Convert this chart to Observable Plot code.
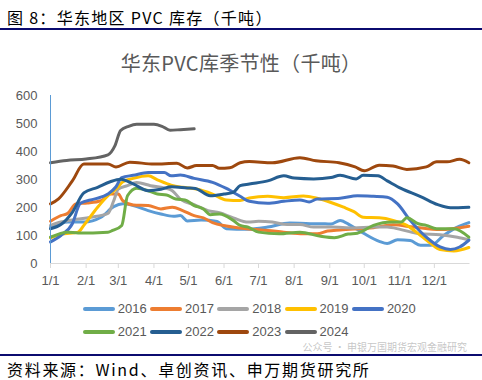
<!DOCTYPE html>
<html><head><meta charset="utf-8">
<script src="https://cdn.jsdelivr.net/npm/d3@7"></script>
<script src="https://cdn.jsdelivr.net/npm/@observablehq/plot@0.6"></script>
<style>
html,body{margin:0;padding:0;background:#fff;width:482px;height:380px;overflow:hidden;position:relative;}
#title{position:absolute;left:7px;top:5px;font:16px "Noto Sans CJK SC";letter-spacing:1.3px;color:#000;white-space:nowrap;}
.rule{position:absolute;left:0;width:482px;height:2px;background:#0b0b6f;}
#ctitle{position:absolute;left:0;width:482px;top:48px;text-align:center;font:20px "Noto Sans CJK SC";letter-spacing:0.3px;color:#595959;}
#chart{position:absolute;left:0;top:0;}
.leg{position:absolute;display:flex;align-items:center;font:13px "Liberation Sans",Arial;color:#595959;}
.sw{width:32px;height:4px;border-radius:2px;margin-right:3px;}
#cap{position:absolute;left:7px;top:357px;font:16px "Noto Sans CJK SC";letter-spacing:1.7px;color:#000;white-space:nowrap;}
#wm{position:absolute;right:15px;top:340px;font:10px/13px "Noto Sans CJK SC";color:rgba(140,140,140,0.5);white-space:nowrap;}
</style></head>
<body>
<div id="title">图 8：华东地区 PVC 库存（千吨）</div>
<div class="rule" style="top:28px"></div>
<div id="chart"></div>
<div id="ctitle">华东PVC库季节性（千吨）</div>
<div id="legend"></div>
<div id="wm">公众号 · 申银万国期货宏观金融研究</div>
<div class="rule" style="top:354px"></div>
<div id="cap">资料来源：Wind、卓创资讯、申万期货研究所</div>
<script>
const years = ["2016","2017","2018","2019","2020","2021","2022","2023","2024"];
const colors = ["#5b9bd5","#ed7d31","#a5a5a5","#ffc000","#4472c4","#70ad47","#255e91","#9e480e","#636363"];
const monthLabels = ["1/1","2/1","3/1","4/1","5/1","6/1","7/1","8/1","9/1","10/1","11/1","12/1"];
const yTicks = [0,100,200,300,400,500,600];

const s2016 = [["1/1",130],["1/16",148],["1/30",148],["2/14",165],["2/25",203],["3/5",213],["3/14",207],["3/27",189],["4/7",177],["4/18",169],["4/24",171],["4/30",152],["5/12",155],["5/26",150],["6/3",124],["6/21",122],["7/9",130],["7/28",145],["8/15",142],["8/28",142],["9/2",141],["9/10",154],["9/19",136],["9/30",109],["10/14",79],["10/21",71],["10/30",85],["11/10",82],["11/19",65],["11/28",65],["12/9",100],["12/21",130],["12/31",146]];
const s2017 = [["1/1",151],["1/10",171],["1/16",179],["1/23",213],["2/2",216],["2/14",224],["2/22",248],["3/1",248],["3/5",224],["3/14",209],["3/27",207],["4/7",195],["4/17",201],["4/26",189],["5/6",171],["5/14",163],["5/22",146],["6/3",134],["6/21",124],["7/9",118],["7/23",112],["8/9",106],["8/21",106],["8/30",116],["9/10",120],["10/9",128],["10/26",138],["11/13",130],["12/6",121],["12/31",133]];
const s2018 = [["1/1",136],["1/10",148],["1/21",156],["2/5",165],["2/20",179],["2/25",224],["3/1",266],["3/9",278],["3/17",289],["3/29",278],["4/10",270],["4/17",260],["4/24",230],["5/6",210],["5/18",189],["5/28",181],["6/9",163],["6/22",148],["7/1",151],["7/13",148],["7/26",139],["8/6",139],["8/18",130],["9/2",130],["9/22",127],["10/9",130],["10/21",130],["11/2",121],["11/19",106],["12/6",103],["12/21",94],["12/31",85]];
const s2019 = [["1/1",92],["1/10",104],["1/25",112],["1/30",136],["2/11",201],["2/20",242],["2/27",266],["3/5",292],["3/14",304],["3/27",313],["4/4",299],["4/16",280],["4/26",272],["5/8",266],["5/22",248],["6/3",227],["6/15",225],["6/23",234],["7/9",240],["7/23",235],["8/9",241],["8/21",233],["9/2",218],["9/13",201],["9/22",185],["9/30",165],["10/14",163],["10/26",154],["11/7",136],["11/19",100],["11/28",71],["12/6",50],["12/18",45],["12/31",57]];
const s2020 = [["1/1",77],["1/10",100],["1/20",142],["1/27",215],["2/8",230],["2/20",248],["2/27",274],["3/4",307],["3/14",315],["3/27",325],["4/10",325],["4/16",313],["4/24",316],["5/6",304],["5/22",290],["6/3",268],["6/15",240],["6/23",222],["7/9",215],["7/23",222],["8/6",227],["8/14",220],["8/21",230],["9/10",233],["9/25",242],["10/9",240],["10/21",237],["10/30",213],["11/10",154],["11/24",94],["12/6",59],["12/15",50],["12/23",59],["12/31",83]];
const s2021 = [["1/1",94],["1/16",112],["1/25",109],["2/20",112],["2/24",118],["3/4",136],["3/9",242],["3/17",269],["3/27",260],["4/4",248],["4/12",245],["4/20",230],["4/28",227],["5/6",207],["5/14",195],["5/20",174],["5/28",177],["6/9",154],["6/15",136],["6/22",130],["7/1",112],["7/19",106],["8/6",112],["8/24",97],["9/5",92],["9/17",105],["9/25",108],["10/9",136],["10/25",148],["11/2",148],["11/7",163],["11/17",142],["11/24",136],["12/3",124],["12/18",124],["12/31",94]];
const s2022 = [["1/1",124],["1/10",139],["1/20",183],["1/30",252],["2/11",272],["2/22",292],["3/3",301],["3/14",284],["3/27",260],["4/7",265],["4/16",274],["4/30",270],["5/7",268],["5/20",242],["6/1",248],["6/9",254],["6/15",278],["6/23",284],["7/9",295],["7/23",313],["8/1",305],["8/18",302],["9/2",307],["9/10",315],["9/24",302],["9/30",315],["10/13",313],["10/21",295],["11/2",268],["11/19",239],["12/4",210],["12/15",199],["12/31",201]];
const s2023 = [["1/1",213],["1/8",231],["1/20",295],["1/30",355],["2/20",355],["2/27",345],["3/11",362],["4/1",355],["4/21",358],["4/30",341],["5/8",350],["5/22",350],["5/28",340],["6/6",342],["6/15",360],["6/23",364],["7/13",360],["8/6",378],["8/20",367],["9/9",360],["9/23",345],["10/1",331],["10/14",351],["10/26",348],["11/7",336],["11/24",345],["12/3",363],["12/12",363],["12/23",372],["12/31",360]];
const s2024 = [["1/1",360],["1/15",368],["2/1",373],["2/20",388],["2/26",420],["3/3",475],["3/10",490],["3/17",497],["4/1",497],["4/8",490],["4/15",476],["4/24",478],["5/6",481]];

const series = [s2016,s2017,s2018,s2019,s2020,s2021,s2022,s2023,s2024];
const toDate = s => { const [m,d] = s.split("/").map(Number); return new Date(Date.UTC(2021, m-1, d)); };
const rows = series.flatMap((s,i) => s.map(([md,v]) => ({year: years[i], date: toDate(md), value: v})));
const x0 = new Date(Date.UTC(2021,0,1)), x1 = new Date(Date.UTC(2022,0,1));
const monthTicks = monthLabels.map(l => toDate(l));

const chart = Plot.plot({
  width: 482, height: 300,
  marginLeft: 50, marginRight: 12.5, marginTop: 95, marginBottom: 37,
  style: {fontFamily: "'Liberation Sans', Arial", fontSize: "13px", color: "#595959", background: "transparent", overflow: "visible"},
  x: {type: "utc", domain: [x0, x1], axis: null},
  y: {domain: [0, 600], axis: null},
  color: {domain: years, range: colors},
  marks: [
    Plot.ruleY([0], {stroke: "#d9d9d9", strokeWidth: 1}),
    Plot.axisX({ticks: monthTicks, tickFormat: d => monthLabels[d.getUTCMonth()], tickSize: 5, tickPadding: 7, stroke: "#d9d9d9", fill: "#595959", label: null, fontSize: 13}),
    Plot.axisY({ticks: yTicks, tickSize: 0, tickPadding: 13, fill: "#595959", label: null, fontSize: 13}),
    Plot.line(rows, {x: "date", y: "value", z: "year", stroke: "year", strokeWidth: 3, curve: "monotone-x", strokeLinejoin: "round", strokeLinecap: "round"}),
    Plot.ruleX([x0], {y1: 0, y2: 600, stroke: "#5b9bd5", strokeWidth: 1})
  ]
});
document.getElementById("chart").appendChild(chart);

const legend = document.getElementById("legend");
years.forEach((y, i) => {
  const row = i < 5 ? 0 : 1, col = i < 5 ? i : i - 5;
  const el = document.createElement("div");
  el.className = "leg";
  el.style.left = (82.7 + col * 67.3) + "px";
  el.style.top = (row === 0 ? 300 : 323) + "px";
  el.style.height = "17px";
  el.innerHTML = `<span class="sw" style="background:${colors[i]}"></span><span>${y}</span>`;
  legend.appendChild(el);
});
</script>
</body></html>
